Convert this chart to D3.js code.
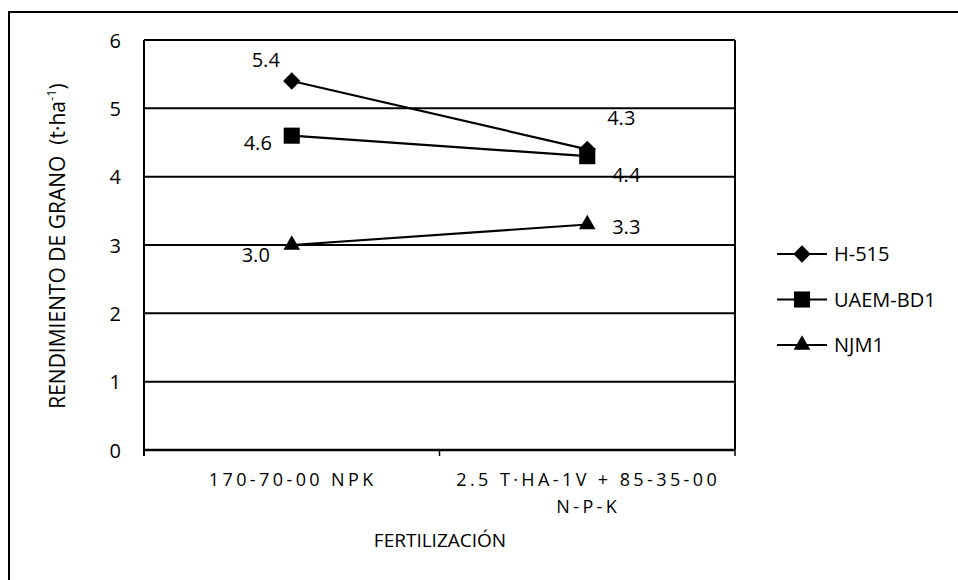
<!DOCTYPE html>
<html><head><meta charset="utf-8">
<script src="https://cdn.jsdelivr.net/npm/d3@7"></script>
<style>body{margin:0;background:#fff}svg{display:block}text{font-family:"Open Sans","Noto Sans",sans-serif;fill:#000;white-space:pre}</style>
</head><body>
<svg id="c" width="958" height="580"></svg>
<script>
const categories = ["170-70-00 NPK", "2.5 T·HA-1V + 85-35-00 N-P-K"];
const categoryLines = [["170-70-00 NPK"], ["2.5 T·HA-1V + 85-35-00", "N-P-K"]];
const seriesNames = ["H-515", "UAEM-BD1", "NJM1"];
const h515 = [5.4, 4.4];
const uaemBD1 = [4.6, 4.3];
const njm1 = [3.0, 3.3];
const h515Labels = ["5.4", "4.3"];
const uaemLabels = ["4.6", "4.4"];
const njm1Labels = ["3.0", "3.3"];
const yTicks = [0, 1, 2, 3, 4, 5, 6];
const xTitle = "FERTILIZACIÓN";
const yTitle = "RENDIMIENTO DE GRANO  (t·ha";

const series = [
  {name: seriesNames[0], values: h515, labels: h515Labels, symbol: d3.symbolDiamond2, size: 190},
  {name: seriesNames[1], values: uaemBD1, labels: uaemLabels, symbol: d3.symbolSquare2, size: 330},
  {name: seriesNames[2], values: njm1, labels: njm1Labels, symbol: d3.symbolTriangle2, size: 200}
];
// label offsets (dx for center, dy for baseline) per series / point
const labelOffsets = [
  [[-26, -14], [34, -24]],
  [[-34, 14], [39, 26]],
  [[-36, 17], [39, 9]]
];

const svg = d3.select("#c");
const m = {l: 144, r: 735, t: 40, b: 450};
svg.append("path").attr("d", "M9,590 L9,12 L960,12").attr("fill","none").attr("stroke","#000").attr("stroke-width",2);

const x = d3.scaleBand().domain(categories).range([m.l, m.r]);
const y = d3.scaleLinear().domain([0, 6]).range([m.b, m.t]);

svg.append("g").selectAll("line").data(yTicks.filter(d => d > 0)).join("line")
  .attr("x1", m.l).attr("x2", m.r).attr("y1", d => y(d)).attr("y2", d => y(d))
  .attr("stroke", "#000").attr("stroke-width", 2);

const ya = svg.append("g").attr("transform", `translate(${m.l},0)`)
  .call(d3.axisLeft(y).tickValues(yTicks).tickSize(0).tickPadding(23).tickFormat(d3.format("d")));
ya.select(".domain").attr("stroke-width", 2).attr("d", `M0,${m.t}V${m.b + 6}`);
ya.selectAll("text").attr("font-size", 20).attr("dy", "0.36em").style("font-family", '"Open Sans",sans-serif');

svg.append("line").attr("x1", m.r).attr("x2", m.r).attr("y1", m.t).attr("y2", m.b).attr("stroke","#000").attr("stroke-width",2);

const xa = svg.append("g").attr("transform", `translate(0,${m.b})`)
  .call(d3.axisBottom(x).tickSize(0).tickFormat(""));
xa.select(".domain").attr("stroke-width", 2.5).attr("d", `M${m.l},0H${m.r}`);
const bounds = [m.l, m.l + x.bandwidth(), m.r];
xa.selectAll(".bt").data(bounds).join("line").attr("class","bt")
  .attr("x1", d => d).attr("x2", d => d).attr("y1", 0).attr("y2", 6)
  .attr("stroke", "#000").attr("stroke-width", 1.5);

categories.forEach((c, i) => {
  categoryLines[i].forEach((ln, j) => {
    svg.append("text").attr("x", x(c) + x.bandwidth() / 2 + 1).attr("y", 486 + j * 27)
      .attr("text-anchor", "middle").attr("font-size", 18).attr("letter-spacing", "3.4px").text(ln);
  });
});

svg.append("text").attr("x", 440).attr("y", 547).attr("text-anchor","middle").attr("font-size", 19).text(xTitle);
const yt = svg.append("text").attr("transform", "translate(65,246) rotate(-90)").attr("text-anchor","middle").attr("font-size", 21);
yt.append("tspan").text(yTitle);
yt.append("tspan").attr("font-size", 13).attr("dy", -9).text("-1");
yt.append("tspan").attr("dy", 9).text(")");

const cx = i => x(categories[i]) + x.bandwidth() / 2;
const line = d3.line().x((d, i) => cx(i)).y(d => y(d));
series.forEach((s, si) => {
  svg.append("path").datum(s.values).attr("d", line).attr("fill","none").attr("stroke","#000").attr("stroke-width", 2.2);
  svg.append("g").selectAll("path").data(s.values).join("path")
    .attr("transform", (d, i) => `translate(${cx(i)},${y(d)})`)
    .attr("d", d3.symbol(s.symbol, s.size)).attr("fill", "#000");
  svg.append("g").selectAll("text").data(s.values).join("text")
    .attr("x", (d, i) => cx(i) + labelOffsets[si][i][0])
    .attr("y", (d, i) => y(d) + labelOffsets[si][i][1])
    .attr("text-anchor", "middle").attr("font-size", 20).text((d, i) => s.labels[i]);
});

const lg = svg.append("g");
series.forEach((s, i) => {
  const ly = 254 + i * 45.5;
  lg.append("line").attr("x1", 777).attr("x2", 827).attr("y1", ly).attr("y2", ly).attr("stroke","#000").attr("stroke-width", 2.2);
  lg.append("path").attr("transform", `translate(802,${ly})`).attr("d", d3.symbol(s.symbol, s.size)).attr("fill","#000");
  lg.append("text").attr("x", 834).attr("y", ly + 7).attr("font-size", 20).text(s.name);
});
</script>
</body></html>
